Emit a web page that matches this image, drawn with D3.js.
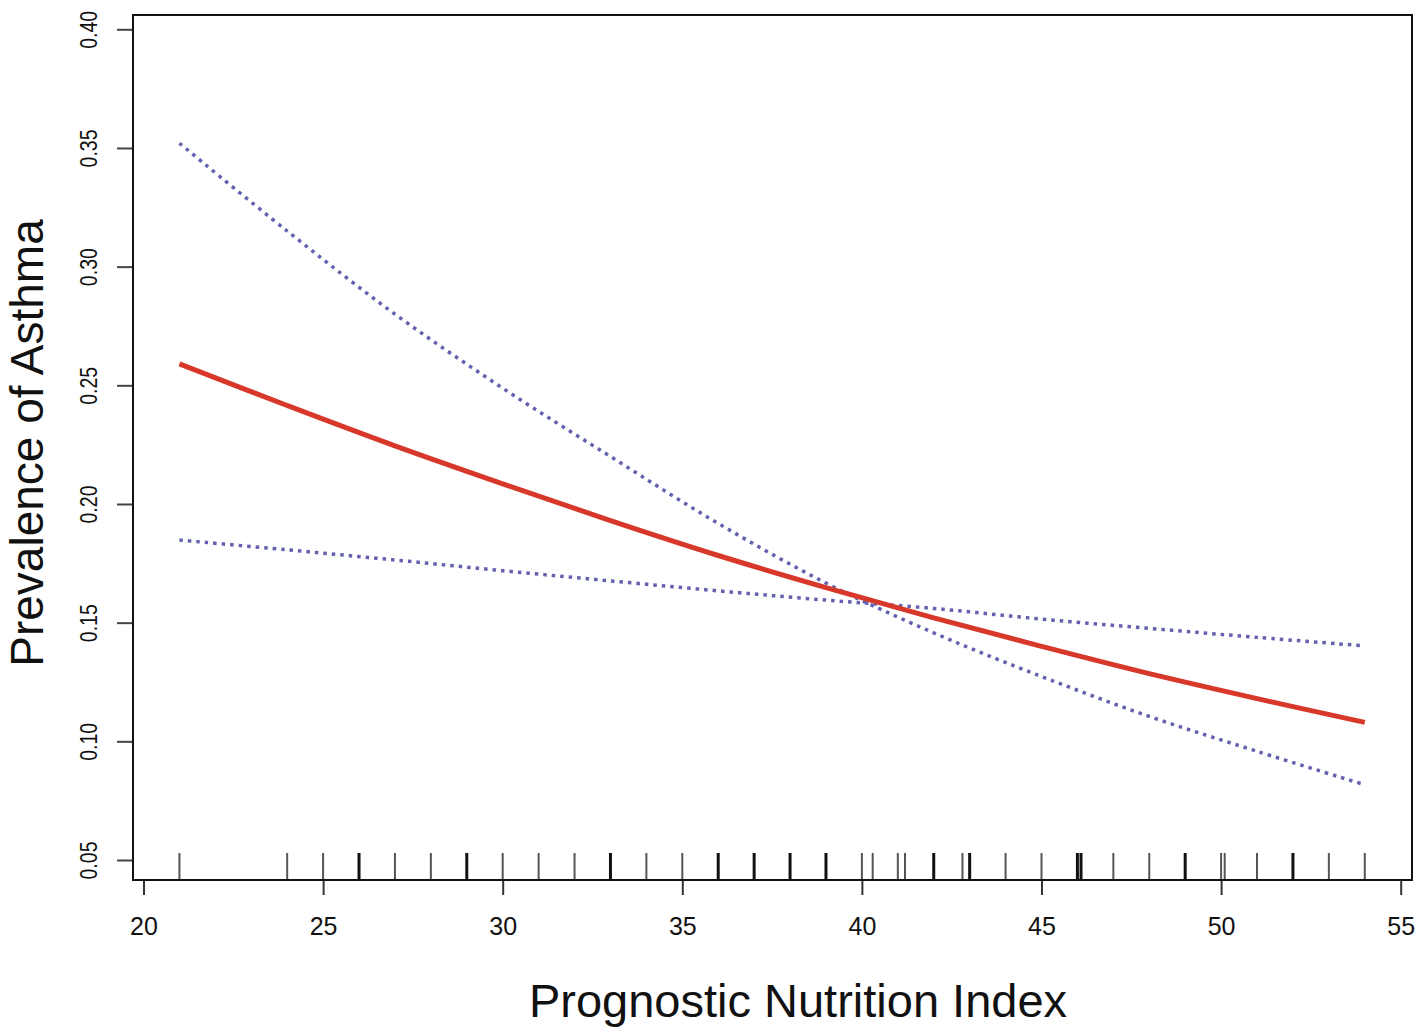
<!DOCTYPE html>
<html lang="en">
<head>
<meta charset="UTF-8" />
<title>Prevalence of Asthma vs PNI</title>
<style>
  body { margin: 0; background: #fff; }
  svg text { font-family: "Liberation Sans", Arial, sans-serif; fill: #111; }
</style>
</head>
<body>
<script src="https://cdn.jsdelivr.net/npm/d3@7"></script>
<div id="app"></div>
<script>
// data
const pni      = [21, 24, 27, 30, 33, 36, 39, 42, 45, 48, 51, 54];
const fit      = [0.259, 0.2415, 0.2245, 0.2085, 0.1930, 0.1783, 0.1648, 0.1520, 0.1400, 0.1285, 0.1180, 0.108];
const ciSteep  = [0.352, 0.315, 0.280, 0.2488, 0.220, 0.1918, 0.1667, 0.1457, 0.1273, 0.1105, 0.0958, 0.0817];
const ciFlat   = [0.1848, 0.1807, 0.1764, 0.1719, 0.1676, 0.1634, 0.1595, 0.156, 0.1515, 0.1476, 0.1438, 0.1402];
const rug      = [21, 24, 25, 26, 27, 28, 29, 30, 31, 32, 33, 34, 35, 36, 37, 38, 39, 40, 40.3, 41, 41.2,
                  42, 42.8, 43, 44, 45, 46, 46.1, 47, 48, 49, 50, 50.1, 51, 52, 53, 54];
const rugBold  = [26, 29, 33, 36, 37, 38, 39, 42, 43, 46, 46.1, 49, 52];
const xTicks   = [20, 25, 30, 35, 40, 45, 50, 55];
const yTicks   = [0.05, 0.10, 0.15, 0.20, 0.25, 0.30, 0.35, 0.40];

const W = 1417, H = 1029;
const box = { left: 133, right: 1412, top: 15, bottom: 880 };

const svg = d3.select("#app").append("svg")
  .attr("width", W).attr("height", H);

const x = d3.scaleLinear().domain([20, 55]).range([143.5, 1400.7]);
const y = d3.scaleLinear().domain([0.05, 0.40]).range([860, 29.3]);

//lines
const line = d3.line()
  .x((d, i) => x(pni[i]))
  .y(d => y(d))
  .curve(d3.curveCatmullRom);

svg.append("path").datum(ciSteep)
  .attr("d", line).attr("fill", "none")
  .attr("stroke", "#6262b0").attr("stroke-width", 3.5)
  .attr("stroke-dasharray", "3.5,5");
svg.append("path").datum(ciFlat)
  .attr("d", line).attr("fill", "none")
  .attr("stroke", "#6262b0").attr("stroke-width", 3.5)
  .attr("stroke-dasharray", "3.5,5");
svg.append("path").datum(fit)
  .attr("d", line).attr("fill", "none")
  .attr("stroke", "#d8382a").attr("stroke-width", 5);

//rug
svg.selectAll(".rug")
  .data(rug)
  .enter()
  .append("line")
  .attr("class", "rug")
  .attr("x1", d => x(d)).attr("x2", d => x(d))
  .attr("y1", box.bottom).attr("y2", box.bottom - 27)
  .attr("stroke", d => rugBold.includes(d) ? "#111" : "#555")
  .attr("stroke-width", d => rugBold.includes(d) ? 3 : 2);

//axes
const xAxis = svg.append("g")
  .attr("transform", "translate(0," + box.bottom + ")")
  .call(d3.axisBottom(x).tickValues(xTicks).tickSize(15).tickSizeOuter(0));
xAxis.select(".domain").remove();
xAxis.selectAll(".tick line").attr("stroke", "#333").attr("stroke-width", 2);
xAxis.selectAll(".tick text")
  .attr("y", 55).attr("dy", 0)
  .style("font-size", "25px")
  .style("font-family", "'Liberation Sans', Arial, sans-serif");

const yAxis = svg.append("g")
  .attr("transform", "translate(" + box.left + ",0)")
  .call(d3.axisLeft(y).tickValues(yTicks).tickSize(16).tickSizeOuter(0)
    .tickFormat(d3.format(".2f")));
yAxis.select(".domain").remove();
yAxis.selectAll(".tick line").attr("stroke", "#444").attr("stroke-width", 2);
yAxis.selectAll(".tick text")
  .attr("transform", "rotate(-90)")
  .attr("x", 0).attr("y", -36).attr("dy", 0)
  .attr("text-anchor", "middle")
  .attr("textLength", 38).attr("lengthAdjust", "spacingAndGlyphs")
  .style("font-size", "24px")
  .style("font-family", "'Liberation Sans', Arial, sans-serif");

//frame
svg.append("rect")
  .attr("x", box.left).attr("y", box.top)
  .attr("width", box.right - box.left).attr("height", box.bottom - box.top)
  .attr("fill", "none").attr("stroke", "#111").attr("stroke-width", 2);

//labels
svg.append("text")
  .attr("x", 798).attr("y", 1017)
  .attr("text-anchor", "middle")
  .style("font-size", "47px")
  .text("Prognostic Nutrition Index");
svg.append("text")
  .attr("transform", "translate(43,443) rotate(-90)")
  .attr("text-anchor", "middle")
  .style("font-size", "46px")
  .text("Prevalence of Asthma");
</script>
</body>
</html>
